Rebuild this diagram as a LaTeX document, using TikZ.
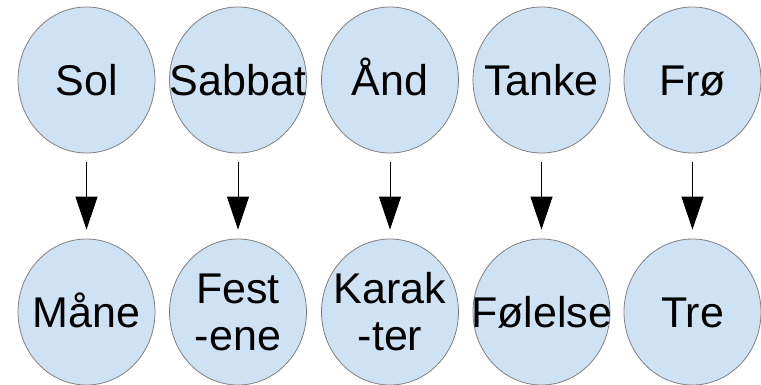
\documentclass[tikz,border=0pt]{standalone}
\usepackage{fontspec}
\setmainfont{Liberation Sans}
\usetikzlibrary{shapes.geometric,arrows.meta}
\definecolor{bubblefill}{HTML}{CFE2F3}
\definecolor{bubbleline}{HTML}{808080}
\tikzset{
  bubble/.style={ellipse, draw=bubbleline, fill=bubblefill, line width=0.8pt,
    minimum width=137pt, minimum height=146pt, inner sep=0pt},
  word/.style={inner sep=0pt, align=center, font=\fontsize{43}{47}\selectfont},
  oneline/.style={text height=30pt, text depth=0pt},
  link/.style={line width=1pt, -{Triangle[length=33pt,width=22pt]},
    shorten <=9pt, shorten >=9pt}
}
\begin{document}
\begin{tikzpicture}[x=1pt,y=-1pt]
\useasboundingbox (0,0) rectangle (761,384);
\node[bubble] (t1) at (86.5,80) {};
\node[bubble] (t2) at (238,80) {};
\node[bubble] (t3) at (390,80) {};
\node[bubble] (t4) at (541.5,80) {};
\node[bubble] (t5) at (692.5,80) {};
\node[bubble] (b1) at (86.5,312) {};
\node[bubble] (b2) at (238,312) {};
\node[bubble] (b3) at (390,312) {};
\node[bubble] (b4) at (541.5,312) {};
\node[bubble] (b5) at (692.5,312) {};
\node[word,oneline] (t1w) at (t1) {Sol};
\node[word,oneline] (t2w) at (t2) {Sabbat};
\node[word,oneline] (t3w) at (t3) {Ånd};
\node[word,oneline] (t4w) at (t4) {Tanke};
\node[word,oneline] (t5w) at (t5) {Frø};
\node[word,oneline] (b1w) at (b1) {Måne};
\node[word] (b2w) at (b2) {Fest\\-ene};
\node[word] (b3w) at (b3) {Karak\\-ter};
\node[word,oneline] (b4w) at (b4) {Følelse};
\node[word,oneline] (b5w) at (b5) {Tre};
\foreach \i in {1,...,5} \draw[link] (t\i) -- (b\i);
\end{tikzpicture}
\end{document}
